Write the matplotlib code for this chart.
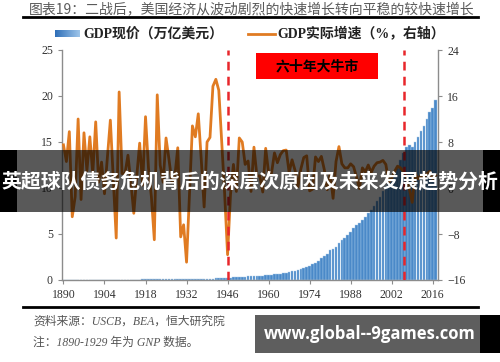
import numpy as np
import matplotlib
matplotlib.use("Agg")
import matplotlib.pyplot as plt
from matplotlib.patches import Rectangle

plt.rcParams['font.family'] = ['Liberation Serif', 'Noto Sans CJK SC']

# ---------------------------- data -------------------------------
years = list(range(1890, 2018))

# nominal GDP (GNP before 1929), trillion USD
gdp_nominal = [
    0.013, 0.013, 0.014, 0.013, 0.012, 0.014, 0.013, 0.014, 0.015, 0.017,   # 1890-1899
    0.019, 0.021, 0.022, 0.023, 0.023, 0.025, 0.028, 0.030, 0.027, 0.032,   # 1900-1909
    0.033, 0.034, 0.037, 0.039, 0.037, 0.040, 0.048, 0.060, 0.076, 0.084,   # 1910-1919
    0.092, 0.070, 0.074, 0.086, 0.088, 0.091, 0.098, 0.096, 0.098, 0.105,   # 1920-1929
    0.092, 0.078, 0.060, 0.057, 0.067, 0.074, 0.085, 0.093, 0.087, 0.094,   # 1930-1939
    0.103, 0.129, 0.166, 0.203, 0.225, 0.228, 0.227, 0.250, 0.274, 0.273,   # 1940-1949
    0.300, 0.347, 0.366, 0.389, 0.391, 0.425, 0.449, 0.475, 0.482, 0.522,   # 1950-1959
    0.543, 0.563, 0.604, 0.637, 0.684, 0.743, 0.814, 0.860, 0.940, 1.017,   # 1960-1969
    1.073, 1.165, 1.279, 1.425, 1.545, 1.685, 1.873, 2.082, 2.351, 2.627,   # 1970-1979
    2.857, 3.207, 3.344, 3.634, 4.038, 4.339, 4.579, 4.855, 5.236, 5.642,   # 1980-1989
    5.963, 6.158, 6.520, 6.859, 7.287, 7.640, 8.073, 8.578, 9.063, 9.631,   # 1990-1999
    10.25, 10.58, 10.94, 11.46, 12.21, 13.04, 13.81, 14.45, 14.71, 14.45,   # 2000-2009
    14.99, 15.54, 16.20, 16.78, 17.53, 18.22, 18.72, 19.52,                 # 2010-2017
]

# real GDP growth, %
gdp_growth = [
    7.5, 4.6, 9.8, -5.0, -1.5, 12.0, -2.0, 9.6, 3.0, 8.9,                  # 1890-1899
    2.5, 11.5, 1.0, 4.5, -1.0, 5.5, 11.8, 1.5, -8.7, 16.7,                 # 1900-1909
    2.5, 2.5, 5.7, 1.0, -4.4, 2.0, 7.8, 0.5, 12.4, 3.5,                    # 1910-1919
    -1.5, -9.0, 16.2, 4.0, 1.0, 8.7, 5.0, 1.0, 2.0, 7.0,                   # 1920-1929
    -8.5, -6.4, -12.9, -1.2, 10.8, 8.9, 12.9, 5.1, -3.3, 8.0,              # 1930-1939
    8.8, 17.7, 18.9, 17.0, 8.0, -1.0, -11.6, -1.1, 4.1, -0.6,              # 1940-1949
    8.7, 8.0, 4.1, 4.7, -0.6, 7.1, 2.1, 2.1, -0.7, 6.9,                    # 1950-1959
    2.6, 2.6, 6.1, 4.4, 5.8, 6.5, 6.6, 2.7, 4.9, 3.1,                      # 1960-1969
    0.2, 3.3, 5.3, 5.6, -0.5, -0.2, 5.4, 4.6, 5.5, 3.2,                    # 1970-1979
    -0.3, 2.5, -1.8, 4.6, 7.2, 4.2, 3.5, 3.5, 4.2, 3.7,                    # 1980-1989
    1.9, -0.1, 3.5, 2.8, 4.0, 2.7, 3.8, 4.4, 4.5, 4.8,                     # 1990-1999
    4.1, 1.0, 1.7, 2.9, 3.8, 3.5, 2.9, 1.9, -0.1, -2.5,                    # 2000-2009
    2.6, 1.6, 2.2, 1.8, 2.5, 2.9, 1.6, 2.2,                                # 2010-2017
]

xtick_years = [1890, 1904, 1918, 1932, 1946, 1960, 1974, 1988, 2002, 2016]
left_ticks = [0, 5, 10, 15, 20, 25]
right_ticks = [-16, -8, 0, 8, 16, 24]
marker_years = [1946, 2006.3]

title = "图表19：二战后，美国经济从波动剧烈的快速增长转向平稳的较快速增长"
bar_label = "GDP现价（万亿美元）"
line_label = "GDP实际增速（%，右轴）"
box_label = "六十年大牛市"
banner = "英超球队债务危机背后的深层次原因及未来发展趋势分析"
source1 = "资料来源：USCB，BEA，恒大研究院"
source2 = "注：1890-1929 年为 GNP 数据。"
watermark = "www.global--9games.com"

ORANGE = "#e07b22"
BLUE = "#4a89c8"
GREY = "#8c8c8c"

# ---------------------------- figure -------------------------------
fig = plt.figure(figsize=(5.0, 3.62), dpi=100)
W, H = 500.0, 362.0

def fx(px):
    return px / W

def fy(py):
    return 1 - py / H

ax = fig.add_axes([fx(62), fy(280), fx(438) - fx(62), fy(50) - fy(280)])
ax2 = ax.twinx()

ax.bar(years, gdp_nominal, width=0.9, color=BLUE, edgecolor="#a9cbea",
       linewidth=0.3, zorder=2)
ax2.plot(years, gdp_growth, color=ORANGE, lw=2.0, zorder=3)
for yr in marker_years:
    ax2.axvline(yr, color="#e8262b", lw=1.8, ls=(0, (3.5, 2.5)), zorder=4)

ax.set_xlim(1889.5, 2017.8)
ax.set_ylim(0, 25)
ax2.set_ylim(-16, 24)
ax.set_xticks(xtick_years)
ax.set_yticks(left_ticks)
ax2.set_yticks(right_ticks)

for a in (ax, ax2):
    a.spines['top'].set_visible(False)
    for s in ('left', 'right', 'bottom'):
        a.spines[s].set_color(GREY)
        a.spines[s].set_linewidth(1.0)
    a.tick_params(colors="#333333", labelsize=8.5, length=3, width=0.8,
                  direction='out')
    a.tick_params(axis='both', color=GREY)
ax.spines['right'].set_visible(False)
ax2.spines['left'].set_visible(False)
ax2.spines['bottom'].set_visible(False)

# title and rules
fig.text(fx(252), fy(9), title, ha='center', va='center', fontsize=10,
         color="#5a5a5a", family=['Noto Sans CJK SC'])
fig.add_artist(plt.Line2D([fx(23), fx(478)], [fy(17), fy(17)], color='black', lw=2))
fig.add_artist(plt.Line2D([fx(23), fx(478)], [fy(307), fy(307)], color='black', lw=2))

# legend
gax = fig.add_axes([fx(55), fy(37), fx(80) - fx(55), fy(30) - fy(37)])
gax.imshow(np.linspace(0, 1, 50).reshape(1, -1), aspect='auto',
           cmap=matplotlib.colors.LinearSegmentedColormap.from_list(
               "g", ["#2f6fb8", "#9ec5ea"]))
gax.axis('off')
fig.text(fx(83), fy(34), bar_label, ha='left', va='center', fontsize=10,
         fontweight='bold', color='#222222')
fig.add_artist(plt.Line2D([fx(248), fx(275)], [fy(34), fy(34)], color=ORANGE, lw=2))
fig.text(fx(277), fy(34), line_label, ha='left', va='center', fontsize=10,
         fontweight='bold', color='#222222')

# red box
fig.add_artist(Rectangle((fx(256), fy(79)), fx(378) - fx(256), fy(53) - fy(79),
                         transform=fig.transFigure, facecolor='#ff0000',
                         edgecolor='none', zorder=5))
fig.text(fx(317), fy(66), box_label, ha='center', va='center', fontsize=10,
         fontweight='bold', color='black', zorder=6,
         family=['Noto Sans CJK SC'])

# source notes
fig.text(fx(33), fy(322), source1, ha='left', va='center', fontsize=8.5,
         color='#555555', style='italic')
fig.text(fx(33), fy(343), source2, ha='left', va='center', fontsize=8.5,
         color='#555555', style='italic')

# overlay banner
fig.add_artist(Rectangle((fx(17), fy(212)), fx(483) - fx(17), fy(150) - fy(212),
                         transform=fig.transFigure, facecolor='black',
                         alpha=0.65, edgecolor='none', zorder=10))
for x0, x1 in ((0, 17), (483, 500)):
    fig.add_artist(Rectangle((fx(x0), fy(212)), fx(x1) - fx(x0), fy(150) - fy(212),
                             transform=fig.transFigure, facecolor='black',
                             edgecolor='none', zorder=10))
fig.text(0.5, fy(181), banner, ha='center', va='center', fontsize=14.3,
         fontweight='bold', color='white', zorder=11,
         family=['Noto Sans CJK SC'])

# watermark
fig.add_artist(Rectangle((fx(255), fy(353)), fx(480) - fx(255), fy(315) - fy(353),
                         transform=fig.transFigure, facecolor='#5e5e5e',
                         edgecolor='none', zorder=10))
fig.add_artist(Rectangle((fx(480), fy(353)), fx(500) - fx(480), fy(315) - fy(353),
                         transform=fig.transFigure, facecolor='black',
                         edgecolor='none', zorder=10))
fig.text(fx(370), fy(334), watermark, ha='center', va='center', fontsize=12,
         fontweight='bold', color='white', zorder=11, family=['Open Sans'])

fig.savefig("out.png", dpi=100)
